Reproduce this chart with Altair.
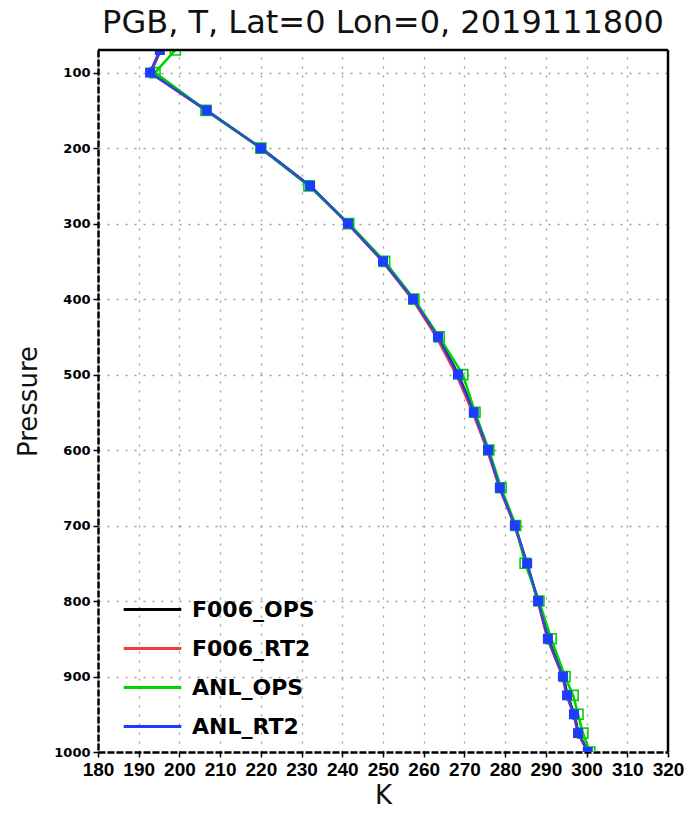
import altair as alt
import pandas as pd

levels = [1000, 975, 950, 925, 900, 850, 800, 750, 700, 650, 600, 550,
          500, 450, 400, 350, 300, 250, 200, 150, 100, 70]
f006_ops = [300.4, 298.0, 297.0, 295.3, 294.3, 290.6, 288.1, 285.3, 282.4, 278.8, 275.8, 272.3,
            268.5, 263.5, 257.4, 250.1, 241.5, 232.1, 220.1, 206.6, 192.9, 195.4]
f006_rt2 = [300.3, 297.9, 296.8, 295.1, 294.1, 290.4, 288.0, 285.3, 282.3, 278.6, 275.6, 272.0,
            268.0, 263.1, 257.2, 249.9, 241.3, 232.0, 220.0, 206.6, 192.8, 195.3]
anl_ops = [300.8, 299.1, 297.9, 296.7, 294.7, 291.3, 288.3, 284.9, 282.6, 279.0, 276.0, 272.6,
           269.6, 263.8, 257.6, 250.4, 241.6, 231.8, 220.0, 206.5, 194.0, 199.0]
anl_rt2 = [300.3, 297.9, 296.9, 295.2, 294.2, 290.5, 288.1, 285.4, 282.4, 278.7, 275.8, 272.3,
           268.4, 263.5, 257.4, 250.0, 241.4, 232.1, 220.0, 206.7, 192.8, 195.2]

series_names = ["F006_OPS", "F006_RT2", "ANL_OPS", "ANL_RT2"]
series_colors = ["#000000", "#f03c3c", "#00d200", "#1e3cff"]
x_ticks = [180, 190, 200, 210, 220, 230, 240, 250, 260, 270, 280, 290, 300, 310, 320]
y_ticks = [100, 200, 300, 400, 500, 600, 700, 800, 900, 1000]

rows = []
for name, vals in zip(series_names, [f006_ops, f006_rt2, anl_ops, anl_rt2]):
    for lev, v in zip(levels, vals):
        rows.append({"series": name, "level": lev, "temp": v})
df = pd.DataFrame(rows)

X = alt.X("temp:Q",
          scale=alt.Scale(domain=[180, 320], nice=False, zero=False),
          axis=alt.Axis(values=x_ticks, title="K", format="d"))
Y = alt.Y("level:Q",
          scale=alt.Scale(domain=[70, 1000], reverse=True, nice=False, zero=False),
          axis=alt.Axis(values=y_ticks, title="Pressure", format="d"))
C = alt.Color("series:N",
              scale=alt.Scale(domain=series_names, range=series_colors),
              legend=alt.Legend(title=None))

base = alt.Chart(df)

def line_for(name, opacity=1.0):
    return base.transform_filter(alt.datum.series == name).mark_line(
        strokeWidth=2.6, clip=True, opacity=opacity
    ).encode(x=X, y=Y, color=C, order=alt.Order("level:Q"))

green_pts = base.transform_filter(alt.datum.series == "ANL_OPS").mark_point(
    shape="square", filled=False, size=100, strokeWidth=1.6, color="#00d200", clip=True, opacity=1
).encode(x=X, y=Y)
blue_pts = base.transform_filter(alt.datum.series == "ANL_RT2").mark_point(
    shape="square", filled=True, size=100, color="#1e3cff", clip=True, opacity=1
).encode(x=X, y=Y)

edge = pd.DataFrame({"e": [0]})
top_rule = alt.Chart(edge).mark_rule(color="black", strokeWidth=2.5).encode(y=alt.datum(70))
right_rule = alt.Chart(edge).mark_rule(color="black", strokeWidth=2.5).encode(x=alt.datum(320))

chart = alt.layer(
    line_for("F006_OPS"),
    line_for("F006_RT2"),
    line_for("ANL_OPS"),
    green_pts,
    line_for("ANL_RT2", 0.8),
    blue_pts,
    top_rule,
    right_rule,
).properties(
    width=570,
    height=702,
    autosize=alt.AutoSizeParams(type="none"),
    padding={"left": 98, "top": 50, "right": 27, "bottom": 61},
    title=alt.TitleParams(
        "PGB, T, Lat=0 Lon=0, 2019111800",
        font="DejaVu Sans", fontSize=32, fontWeight="normal", color="#111111",
        anchor="middle", baseline="bottom", offset=10, dy=33,
    ),
).configure_view(
    stroke=None
).configure_axis(
    domainColor="black", domainWidth=2.5, domainDash=[7, 2],
    tickColor="black", tickWidth=1.5, tickSize=5,
    grid=True, gridColor="#9a9a9a", gridDash=[2, 7], gridWidth=1.3,
    labelColor="black", labelFontWeight="bold", labelFlush=False, labelOverlap=False,
    titleColor="#111111", titleFont="DejaVu Sans", titleFontSize=26, titleFontWeight="normal",
).configure_axisX(
    labelFont="Liberation Sans", labelFontSize=19, labelPadding=3, titlePadding=3,
).configure_axisY(
    labelFont="DejaVu Sans", labelFontSize=13, labelPadding=3, titlePadding=12,
).configure_legend(
    orient="none", legendX=24, legendY=540,
    symbolType="stroke", symbolSize=3318, symbolStrokeWidth=3,
    labelFont="DejaVu Sans", labelFontWeight="bold", labelFontSize=22, labelColor="black",
    labelOffset=9, clipHeight=39, rowPadding=0, padding=0,
)

chart.save("out.html", embed_options={"renderer": "svg", "actions": False})
